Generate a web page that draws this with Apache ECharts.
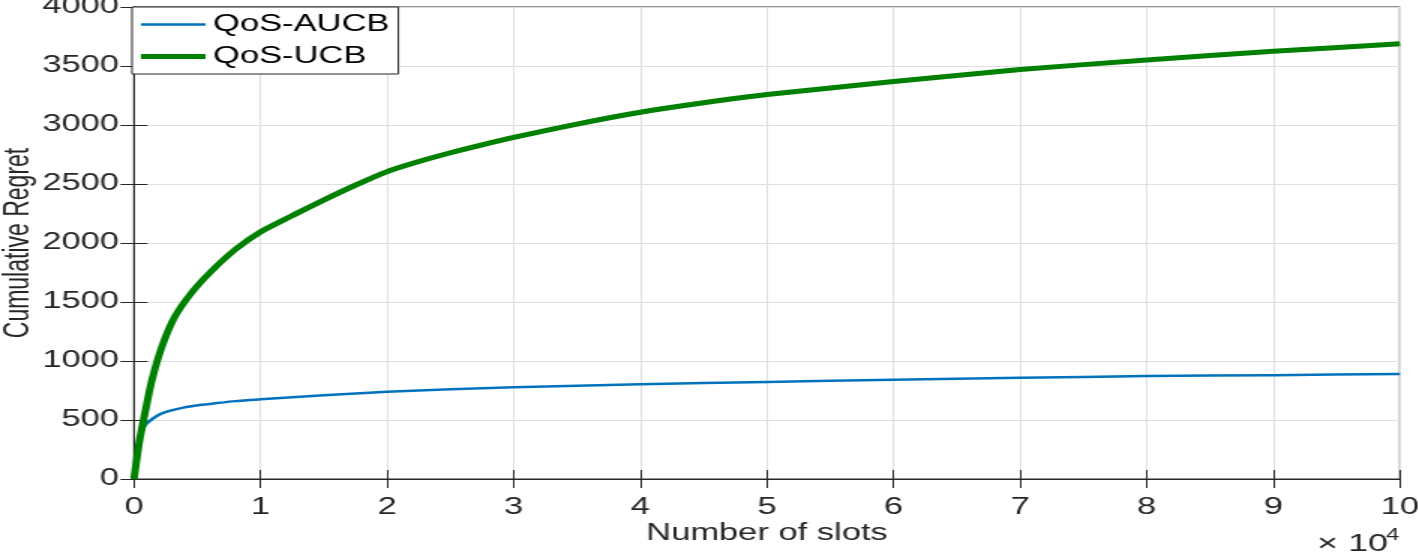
<!DOCTYPE html>
<html>
<head>
<meta charset="utf-8">
<script src="https://cdn.jsdelivr.net/npm/echarts@6/dist/echarts.min.js"></script>
<style>
html, body { margin: 0; padding: 0; background: #fff; overflow: hidden; }
/* the source figure is stretched sideways, so draw narrower and widen it */
#regret_pic { width: 960px; height: 554px; transform: scaleX(1.5); transform-origin: 0 0; }
</style>
</head>
<body>
<div id="regret_pic"></div>
<script>
var slots_aucb = [0, 200, 450, 740, 1000, 1800, 2600, 3900, 5200, 6500, 8000, 10000, 15000, 20000, 25000, 30000, 40000, 50000, 60000, 70000, 80000, 90000, 100000];
var regret_aucb = [0, 180, 340, 430, 470, 534, 570, 605, 627, 643, 660, 675, 710, 740, 761, 778, 803, 823, 842, 858, 872, 880, 890];

var slots_ucb = [0, 400, 870, 1400, 2200, 3200, 4560, 6100, 8000, 10000, 12500, 15000, 17500, 20000, 22500, 25000, 27500, 30000, 35000, 40000, 45000, 50000, 60000, 70000, 80000, 90000, 100000];
var regret_ucb = [0, 300, 560, 830, 1119, 1370, 1580, 1760, 1945, 2095, 2232, 2364, 2490, 2605, 2690, 2765, 2832, 2895, 3008, 3108, 3188, 3258, 3368, 3470, 3551, 3625, 3688];

var x_ticks = [0, 1, 2, 3, 4, 5, 6, 7, 8, 9, 10];
var y_ticks = [0, 500, 1000, 1500, 2000, 2500, 3000, 3500, 4000];

function pairs(xs, ys) {
    var out = [];
    for (var i = 0; i < xs.length; i++) {
        out.push([xs[i], ys[i]]);
    }
    return out;
}

// legend sample: a band of the given thickness in the middle of a 43x14 box
// (the two specks at the corners only fix the bounding box)
function lineIcon(thick) {
    var a = 7 - thick / 2, b = 7 + thick / 2;
    return 'path://M0,0L0.01,0L0.01,0.01Z M0,' + a + 'L43,' + a + 'L43,' + b + 'L0,' + b + 'Z M42.99,14L43,14L43,13.99Z';
}

var regret_Chart = echarts.init(document.getElementById('regret_pic'));
var font = 'Liberation Sans, Arial, Helvetica, sans-serif';
var ink = '#262626';
var gridGray = '#dedede';

var option_regret = {
    animation: false,
    textStyle: { fontFamily: font },
    grid: {
        left: 89.3,
        right: 26.7,
        top: 7,
        bottom: 75,
        outerBoundsMode: 'none',
        containLabel: false,
        show: true,
        borderColor: ink,
        borderWidth: 1,
        backgroundColor: 'transparent'
    },
    legend: {
        orient: 'vertical',
        left: 88,
        top: 7,
        backgroundColor: '#fff',
        borderColor: ink,
        borderWidth: 1,
        borderRadius: 0,
        padding: [6, 6, 6, 6],
        itemWidth: 43,
        itemHeight: 14,
        itemGap: 9,
        textStyle: { fontFamily: font, fontSize: 23, color: '#000' },
        data: [
            { name: 'QoS-AUCB', icon: lineIcon(2.5) },
            { name: 'QoS-UCB', icon: lineIcon(5) }
        ]
    },
    xAxis: [
        {
            type: 'value',
            position: 'bottom',
            min: 0,
            max: 100000,
            interval: 10000,
            name: 'Number of slots',
            nameLocation: 'middle',
            nameGap: 43,
            nameMoveOverlap: false,
            nameTextStyle: { fontFamily: font, fontSize: 23, color: ink },
            axisLine: { show: true, lineStyle: { color: ink, width: 1 } },
            axisTick: { show: true, inside: true, length: 9, lineStyle: { color: ink } },
            axisLabel: {
                fontFamily: font, fontSize: 23, color: ink, margin: 17,
                formatter: function (v) { return String(x_ticks[Math.round(v / 10000)]); }
            },
            splitLine: { show: true, lineStyle: { color: gridGray, width: 1 } }
        },
        {
            type: 'value',
            position: 'top',
            min: 0,
            max: 100000,
            interval: 10000,
            axisLine: { show: true, lineStyle: { color: ink, width: 1 } },
            axisTick: { show: true, inside: true, length: 9, lineStyle: { color: ink } },
            axisLabel: { show: false },
            splitLine: { show: false }
        }
    ],
    yAxis: [
        {
            type: 'value',
            position: 'left',
            min: 0,
            max: 4000,
            interval: 500,
            name: 'Cumulative Regret',
            nameLocation: 'middle',
            nameGap: 65,
            nameMoveOverlap: false,
            nameTextStyle: { fontFamily: font, fontSize: 23, color: ink },
            axisLine: { show: true, lineStyle: { color: ink, width: 1 } },
            axisTick: { show: true, inside: true, length: 9, lineStyle: { color: ink } },
            axisLabel: {
                fontFamily: font, fontSize: 23, color: ink, margin: 10,
                formatter: function (v) { return y_ticks.indexOf(v) >= 0 ? String(v) : ''; }
            },
            splitLine: { show: true, lineStyle: { color: gridGray, width: 1 } }
        },
        {
            type: 'value',
            position: 'right',
            min: 0,
            max: 4000,
            interval: 500,
            axisLine: { show: true, lineStyle: { color: ink, width: 1 } },
            axisTick: { show: true, inside: true, length: 9, lineStyle: { color: ink } },
            axisLabel: { show: false },
            splitLine: { show: false }
        }
    ],
    graphic: [
        {
            type: 'text',
            left: 878,
            top: 532,
            style: { text: '× 10', fontFamily: font, fontSize: 24, fill: ink }
        },
        {
            type: 'text',
            left: 924,
            top: 528,
            style: { text: '4', fontFamily: font, fontSize: 16, fill: ink }
        }
    ],
    series: [
        {
            name: 'QoS-AUCB',
            type: 'line',
            xAxisIndex: 0,
            yAxisIndex: 0,
            showSymbol: false,
            symbol: 'none',
            smooth: 0.2,
            lineStyle: { color: '#0072BD', width: 2.5 },
            itemStyle: { color: '#0072BD' },
            data: pairs(slots_aucb, regret_aucb)
        },
        {
            name: 'QoS-UCB',
            type: 'line',
            xAxisIndex: 0,
            yAxisIndex: 0,
            showSymbol: false,
            symbol: 'none',
            smooth: 0.2,
            lineStyle: { color: '#008000', width: 5 },
            itemStyle: { color: '#008000' },
            data: pairs(slots_ucb, regret_ucb)
        }
    ]
};

regret_Chart.setOption(option_regret);
</script>
</body>
</html>
